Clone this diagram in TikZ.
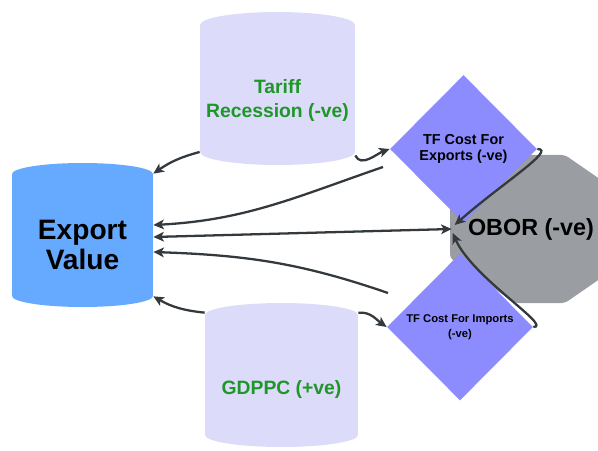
\documentclass[tikz,border=0pt]{standalone}
\usepackage{fontspec}
\setmainfont{Liberation Sans}
\usetikzlibrary{shapes.geometric,arrows.meta,calc}
\definecolor{exportblue}{HTML}{66AAFF}
\definecolor{drumlav}{HTML}{DCDCFA}
\definecolor{costviolet}{HTML}{8C8CFF}
\definecolor{oborgray}{HTML}{9A9DA2}
\definecolor{factgreen}{HTML}{1E9628}
\definecolor{linkgray}{HTML}{33393D}

\tikzset{
  drum fill/.store in=\drumfill, drum fill=drumlav,
  drum ry/.store in=\drumry, drum ry=0.24cm,
  drum drop/.store in=\drumdrop, drum drop=0cm,
  drum/.style={rectangle, inner sep=0pt, align=center,
    path picture={
      \fill[\drumfill] let \p1=(path picture bounding box.north west),
        \p2=(path picture bounding box.south east),
        \n1={(\x2-\x1)/2} in
        (\x1,{\y1-\drumry}) arc[start angle=180, end angle=0, x radius={\n1*1pt}, y radius=\drumry]
        -- (\x2,{\y2+\drumdrop+\drumry}) arc[start angle=0, end angle=-180, x radius={\n1*1pt}, y radius=\drumry] -- cycle;
    }},
  cost/.style={diamond, fill=costviolet, inner sep=0pt, align=center, text=black},
  link/.style={draw=linkgray, line width=1.3pt, ->},
}

\begin{document}
\begin{tikzpicture}[x=0.02cm, y=0.02cm, >={Stealth[length=6pt,width=5.5pt,inset=1.5pt]}]
  \clip (0,0) rectangle (598,450);

  % cylinders
  \node[drum, drum fill=exportblue, drum ry=0.22cm, drum drop=0.4cm,
        minimum width=2.82cm, minimum height=3.28cm,
        font=\fontsize{16}{17.5}\selectfont\bfseries] (export) at (82.5,205) {Export\\Value};
  \node[drum, drum ry=0.26cm, drum drop=0.48cm, minimum width=3.1cm, minimum height=3.54cm,
        text=factgreen, font=\fontsize{11}{13.4}\selectfont\bfseries] (tariff) at (277.5,349.5) {Tariff\\Recession (-ve)};
  \node[drum, drum ry=0.24cm, drum drop=0.6cm, minimum width=3.06cm, minimum height=3.48cm,
        text=factgreen, font=\fontsize{11}{13.4}\selectfont\bfseries] (gdppc) at (281.5,60) {GDPPC (+ve)};

  % OBOR octagon
  \fill[oborgray, rounded corners=2pt] (515,295) -- (565,295) -- (630,250) -- (630,192)
    -- (565,147) -- (515,147) -- (450,192) -- (450,250) -- cycle;

  % trade facilitation costs
  \node[cost, minimum width=2.94cm, minimum height=2.96cm,
        font=\fontsize{8.2}{9.2}\selectfont\bfseries] (expcost) at (463.5,301) {TF Cost For\\Exports (-ve)};
  \node[cost, minimum width=2.92cm, minimum height=2.94cm,
        font=\fontsize{6.4}{8.6}\selectfont\bfseries] (impcost) at (460,123) {TF Cost For Imports\\(-ve)};

  \node[inner sep=0pt, font=\fontsize{13.3}{16}\selectfont\bfseries] (obor) at (531,221) {OBOR (-ve)};

  % free tails
  \coordinate (exptail) at (383,283);
  \coordinate (imptail) at (388,157);

  % links
  \draw[link] ([yshift=-1.03cm]tariff.west) to[out=195, in=35] ([yshift=-0.22cm]export.north east);
  \draw[link] ([yshift=-1.1cm]tariff.east) to[out=-65, in=200] (expcost.west);
  \draw[link] (exptail) to[out=199, in=3] ([yshift=0.4cm]export.east);
  \draw[link, <->] ([xshift=-0.32cm]obor.west) -- ([yshift=0.16cm]export.east);
  \draw[link] (imptail) to[out=161, in=-2] ([yshift=-0.14cm]export.east);
  \draw[link] ([yshift=-0.2cm]gdppc.north west) to[out=174, in=-30] ([yshift=0.62cm]export.south east);
  \draw[link] ([yshift=-0.2cm]gdppc.north east) to[out=5, in=145] (impcost.west);
  \draw[link] (expcost.east) .. controls +(20,0) and +(45,40) .. ([xshift=-0.26cm,yshift=0.08cm]obor.west);
  \draw[link] (impcost.east) .. controls +(20,0) and +(20,-45) .. ([xshift=-0.3cm,yshift=-0.08cm]obor.west);
\end{tikzpicture}
\end{document}
